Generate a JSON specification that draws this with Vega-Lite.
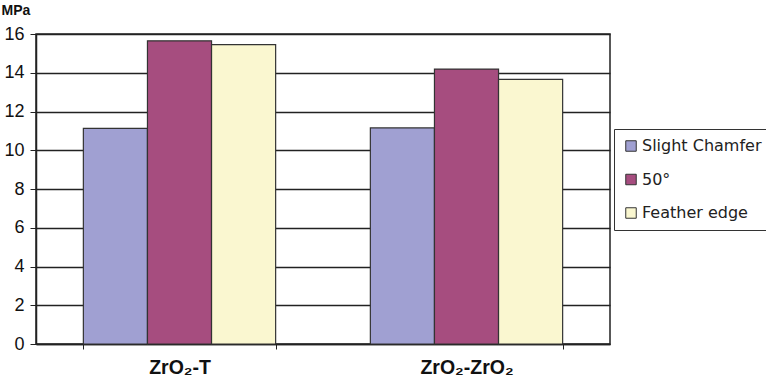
{
  "$schema": "https://vega.github.io/schema/vega-lite/v6.json",
  "width": 574,
  "height": 310,
  "autosize": {"type": "none"},
  "padding": {"left": 36, "top": 34, "right": 156, "bottom": 39},
  "background": "white",
  "config": {
    "view": {"stroke": "#222", "strokeWidth": 1.5},
    "font": "Liberation Sans"
  },
  "data": {
    "values": [
      {"material": "ZrO₂-T", "prep": "Slight Chamfer", "mpa": 11.13},
      {"material": "ZrO₂-T", "prep": "50°", "mpa": 15.65},
      {"material": "ZrO₂-T", "prep": "Feather edge", "mpa": 15.45},
      {"material": "ZrO₂-ZrO₂", "prep": "Slight Chamfer", "mpa": 11.15},
      {"material": "ZrO₂-ZrO₂", "prep": "50°", "mpa": 14.19},
      {"material": "ZrO₂-ZrO₂", "prep": "Feather edge", "mpa": 13.66}
    ]
  },
  "mark": {"type": "bar", "stroke": "#333", "strokeWidth": 1.2},
  "encoding": {
    "x": {
      "field": "material",
      "type": "nominal",
      "sort": ["ZrO₂-T", "ZrO₂-ZrO₂"],
      "scale": {"paddingInner": 0.33, "paddingOuter": 0.165},
      "axis": {
        "title": null,
        "labelAngle": 0,
        "labelFont": "Liberation Sans",
        "labelFontWeight": "bold",
        "labelFontSize": 19.5,
        "labelColor": "#111",
        "labelPadding": 9,
        "tickBand": "extent",
        "tickColor": "#222",
        "tickSize": 5,
        "domainColor": "#222",
        "domainWidth": 1.5,
        "grid": false
      }
    },
    "xOffset": {
      "field": "prep",
      "type": "nominal",
      "sort": ["Slight Chamfer", "50°", "Feather edge"],
      "scale": {"paddingInner": 0, "paddingOuter": 0}
    },
    "y": {
      "field": "mpa",
      "type": "quantitative",
      "scale": {"domain": [0, 16], "nice": false},
      "axis": {
        "values": [0, 2, 4, 6, 8, 10, 12, 14, 16],
        "title": "MPa",
        "titleAngle": 0,
        "titleAlign": "left",
        "titleBaseline": "top",
        "titleX": -35,
        "titleY": -31,
        "titleFont": "Liberation Sans",
        "titleFontWeight": "bold",
        "titleFontSize": 14,
        "titleColor": "#111",
        "labelFont": "Liberation Sans",
        "labelFontSize": 18,
        "labelColor": "#111",
        "labelPadding": 6,
        "tickSize": 6,
        "tickColor": "#222",
        "domainColor": "#222",
        "domainWidth": 1.5,
        "grid": true,
        "gridColor": "#222",
        "gridWidth": 1.5
      }
    },
    "fill": {
      "field": "prep",
      "type": "nominal",
      "scale": {
        "domain": ["Slight Chamfer", "50°", "Feather edge"],
        "range": ["#A0A0D2", "#A64D7F", "#FAF7D0"]
      },
      "legend": {
        "title": null,
        "orient": "none",
        "legendX": 578,
        "legendY": 95,
        "strokeColor": "#333",
        "fillColor": "white",
        "padding": 9,
        "symbolType": "square",
        "symbolSize": 110,
        "symbolStrokeColor": "#333",
        "symbolStrokeWidth": 1,
        "labelFont": "DejaVu Sans",
        "labelFontSize": 16,
        "labelColor": "#222",
        "rowPadding": 17.5,
        "labelOffset": 3,
        "symbolOffset": 0
      }
    }
  }
}
